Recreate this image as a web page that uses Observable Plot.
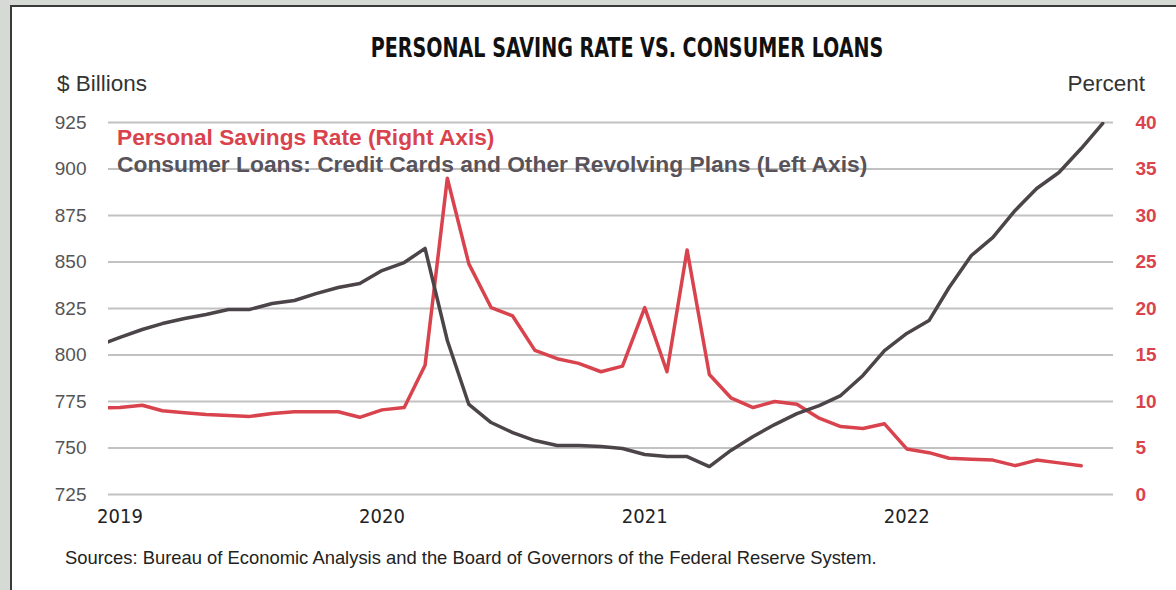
<!DOCTYPE html>
<html>
<head>
<meta charset="utf-8">
<script src="https://cdn.jsdelivr.net/npm/d3@7"></script>
<script src="https://cdn.jsdelivr.net/npm/@observablehq/plot@0.6"></script>
<style>
  html, body { margin: 0; padding: 0; }
  body { width: 1176px; height: 590px; background: #d5dad4; position: relative; overflow: hidden; font-family: "Liberation Sans", Arial, sans-serif; }
  #panel { position: absolute; left: 10px; top: 5px; width: 1200px; height: 620px; background: #fff; border-left: 2px solid #3a3a3a; border-top: 2px solid #3a3a3a; }
  .t { position: absolute; white-space: nowrap; line-height: 1; }
  #chart { position: absolute; left: 0; top: 60px; }
</style>
</head>
<body>
<div id="panel"></div>
<div id="chart"></div>
<div class="t" id="title" style="left:627px; top:34px; transform:translateX(-50%) scaleX(0.787); font-family:'DejaVu Sans Condensed','DejaVu Sans',sans-serif; font-weight:bold; font-size:27px; color:#111;">PERSONAL SAVING RATE VS. CONSUMER LOANS</div>
<div class="t" style="left:57px; top:72.7px; font-size:22.5px; color:#333;">$ Billions</div>
<div class="t" style="right:31px; top:72.7px; font-size:22.5px; color:#333;">Percent</div>
<div class="t" style="left:117px; top:126px; font-size:22.7px; font-weight:bold; color:#d9434d;">Personal Savings Rate (Right Axis)</div>
<div class="t" style="left:117px; top:153px; font-size:22.8px; font-weight:bold; color:#58535a;">Consumer Loans: Credit Cards and Other Revolving Plans (Left Axis)</div>
<div class="t" id="source" style="left:65px; top:549.4px; font-size:18.4px; color:#222;">Sources: Bureau of Economic Analysis and the Board of Governors of the Federal Reserve System.</div>
<script>
// Months from Dec 2018 to Oct 2022
const startYear = 2018, startMonth = 11;
const loanValues = [
  805, 809.5, 813.7, 816.9, 819.6, 821.8, 824.5, 824.5, 827.7, 829.3, 833, 836.3, 838.4,
  845.4, 849.7, 857.3, 807.8, 773.4, 763.7, 758.3, 754, 751.3, 751.3, 750.8, 749.7,
  746.5, 745.4, 745.4, 740, 748.7, 756.2, 762.6, 768.5, 772.8, 778.2, 789, 802.4,
  811.6, 818.5, 836.3, 853.5, 863.2, 877.7, 889.5, 898.1, 911, 924.5
];
const savingValues = [
  9.3, 9.35, 9.6, 9.0, 8.8, 8.6, 8.5, 8.4, 8.7, 8.9, 8.9, 8.9, 8.3,
  9.1, 9.35, 13.9, 34.0, 24.8, 20.1, 19.2, 15.5, 14.6, 14.1, 13.2, 13.8,
  20.1, 13.2, 26.3, 12.9, 10.4, 9.35, 10.0, 9.7, 8.2, 7.3, 7.1, 7.6,
  4.9, 4.5, 3.9, 3.8, 3.7, 3.1, 3.7, 3.4, 3.1
];
const leftTicks = [725, 750, 775, 800, 825, 850, 875, 900, 925];
const rightTicks = [0, 5, 10, 15, 20, 25, 30, 35, 40];
const yearTicks = [2019, 2020, 2021, 2022];

const monthDate = i => new Date(startYear, startMonth + i, 1);
const loans = loanValues.map((v, i) => ({date: monthDate(i), value: v}));
const savings = savingValues.map((v, i) => ({date: monthDate(i), value: v}));
// right axis (percent) mapped onto left scale: 0 -> 725, 40 -> 925
const toLeft = p => 725 + p * 5;
const xDomain = [new Date(2018, 11, 16), new Date(2022, 9, 16)];

const chart = Plot.plot({
  width: 1176,
  height: 474,
  marginLeft: 108,
  marginRight: 63,
  marginTop: 62,
  marginBottom: 40,
  style: {background: "transparent", fontFamily: "'Liberation Sans', Arial, sans-serif", overflow: "visible"},
  x: {type: "time", domain: xDomain, axis: null},
  y: {domain: [725, 925], axis: null},
  marks: [
    Plot.ruleY(leftTicks, {stroke: "#c2c2c2", strokeWidth: 2}),
    Plot.text(leftTicks, {x: () => xDomain[0], y: d => d, dx: -22, textAnchor: "end", fontSize: 19, fill: "#555", text: d => String(d)}),
    Plot.text(rightTicks, {x: () => xDomain[1], y: d => toLeft(d), dx: 22, textAnchor: "start", fontSize: 19, fontWeight: "bold", fill: "#d9434d", text: d => String(d)}),
    Plot.text(yearTicks, {x: d => new Date(d, 0, 1), frameAnchor: "bottom", dy: 28, fontSize: 20, fill: "#222", text: d => String(d), fontFamily: "'DejaVu Sans Condensed', sans-serif"}),
    Plot.lineY(savings, {x: "date", y: d => toLeft(d.value), stroke: "#d9434d", strokeWidth: 3.5, clip: true}),
    Plot.lineY(loans, {x: "date", y: "value", stroke: "#4b4448", strokeWidth: 3.5, clip: true})
  ]
});
document.getElementById("chart").appendChild(chart);
</script>
</body>
</html>
